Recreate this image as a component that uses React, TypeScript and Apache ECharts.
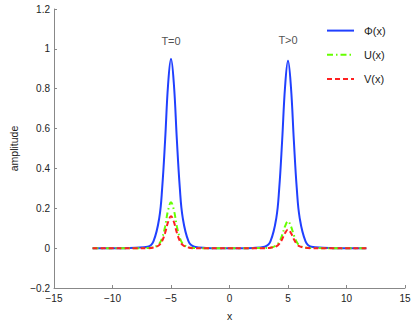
import React, { useEffect, useRef } from "react";
import * as echarts from "echarts";

const xValues = [
  -11.7, -10, -9, -8, -7, -6.5, -6, -5.75, -5.5, -5.25, -5, -4.75, -4.5, -4.25, -4, -3.5, -3,
  -2, -1, 0, 1, 2, 3, 3.5, 4, 4.25, 4.5, 4.75, 5, 5.25, 5.5, 5.75, 6, 6.5, 7, 8, 9, 10, 11.7,
];
const PHI = [
  0, 0, 0, 0.002, 0.007, 0.034, 0.153, 0.305, 0.545, 0.82, 0.95, 0.82, 0.545, 0.305, 0.153, 0.034,
  0.007, 0.001, 0, 0, 0, 0.001, 0.007, 0.034, 0.151, 0.3, 0.54, 0.81, 0.94, 0.81, 0.54, 0.3,
  0.151, 0.034, 0.007, 0.002, 0, 0, 0,
];
const U = [
  0, 0, 0, 0, 0.001, 0.004, 0.023, 0.053, 0.11, 0.19, 0.23, 0.19, 0.11, 0.053, 0.023, 0.004,
  0.001, 0, 0, 0, 0, 0, 0.001, 0.002, 0.0135, 0.031, 0.065, 0.11, 0.135, 0.11, 0.065, 0.031,
  0.0135, 0.002, 0.001, 0, 0, 0, 0,
];
const V = [
  0, 0, 0, 0, 0, 0.003, 0.016, 0.037, 0.077, 0.131, 0.16, 0.131, 0.077, 0.037, 0.016, 0.003, 0,
  0, 0, 0, 0, 0, 0, 0.002, 0.009, 0.021, 0.045, 0.076, 0.093, 0.076, 0.045, 0.021, 0.009, 0.002,
  0, 0, 0, 0, 0,
];
const seriesNames = ["Φ(x)", "U(x)", "V(x)"];
const annotations = [
  { text: "T=0", x: -5, y: 1.04 },
  { text: "T>0", x: 5, y: 1.045 },
];

const fmt = (v: number) => String(v).replace("-", "\u2212");
const FONT = "Liberation Sans, Arial, sans-serif";
const TXT = "#222";
const AX = "#888";

export default function App() {
  const ref = useRef<HTMLDivElement>(null);
  useEffect(() => {
    if (!ref.current) return;
    const chart = echarts.init(ref.current, undefined, { renderer: "svg" });
    const pairs = (ys: number[]) => xValues.map((x, i) => [x, ys[i]]);
    chart.setOption({
      animation: false,
      textStyle: { fontFamily: FONT },
      grid: { left: 50, right: 10, top: 9, bottom: 37 },
      legend: {
        orient: "vertical",
        left: 321,
        top: 20,
        itemWidth: 27,
        itemHeight: 14,
        itemGap: 13,
        itemStyle: { opacity: 0 },
        textStyle: { fontSize: 11, color: TXT, fontFamily: FONT, padding: [0, 0, 0, 5] },
        data: seriesNames,
      },
      xAxis: {
        type: "value",
        min: -15,
        max: 15,
        interval: 5,
        name: "x",
        nameLocation: "middle",
        nameGap: 22,
        nameTextStyle: { fontSize: 10.5, color: TXT, fontFamily: FONT },
        axisLine: { onZero: false, lineStyle: { color: AX, width: 1 } },
        axisTick: { inside: true, length: 3, lineStyle: { color: AX } },
        axisLabel: { fontSize: 10, color: TXT, margin: 5, formatter: fmt },
        splitLine: { show: false },
      },
      yAxis: {
        type: "value",
        min: -0.2,
        max: 1.2,
        interval: 0.2,
        name: "amplitude",
        nameLocation: "middle",
        nameGap: 35,
        nameTextStyle: { fontSize: 10.5, color: TXT, fontFamily: FONT },
        axisLine: { show: true, onZero: false, lineStyle: { color: AX, width: 1 } },
        axisTick: { show: true, inside: true, length: 3, lineStyle: { color: AX } },
        axisLabel: { fontSize: 10, color: TXT, margin: 4, formatter: (v: number) => fmt(Math.round(v * 10) / 10) },
        splitLine: { show: false },
      },
      series: [
        {
          name: seriesNames[0],
          type: "line",
          data: pairs(PHI),
          smooth: 0.4,
          symbol: "none",
          lineStyle: { color: "#2040ff", width: 2 },
          itemStyle: { color: "#2040ff" },
          z: 1,
        },
        {
          name: seriesNames[1],
          type: "line",
          data: pairs(U),
          smooth: 0.4,
          symbol: "none",
          lineStyle: { color: "#66ff00", width: 2, type: [6, 3, 1.5, 3] },
          itemStyle: { color: "#66ff00" },
          z: 2,
        },
        {
          name: seriesNames[2],
          type: "line",
          data: pairs(V),
          smooth: 0.4,
          symbol: "none",
          lineStyle: { color: "#ff2020", width: 2, type: [5, 3] },
          itemStyle: { color: "#ff2020" },
          z: 3,
        },
        {
          name: "annotations",
          type: "scatter",
          data: annotations.map((a) => ({ name: a.text, value: [a.x, a.y] })),
          symbol: "circle",
          symbolSize: 2,
          itemStyle: { color: "rgba(0,0,0,0)" },
          silent: true,
          label: {
            show: true,
            position: "inside",
            color: TXT,
            fontSize: 11,
            fontFamily: FONT,
            formatter: (p: any) => p.name,
          },
          z: 4,
        },
      ],
    });
    return () => chart.dispose();
  }, []);
  return <div ref={ref} style={{ width: 415, height: 326, position: "absolute", left: 0, top: 0 }} />;
}
